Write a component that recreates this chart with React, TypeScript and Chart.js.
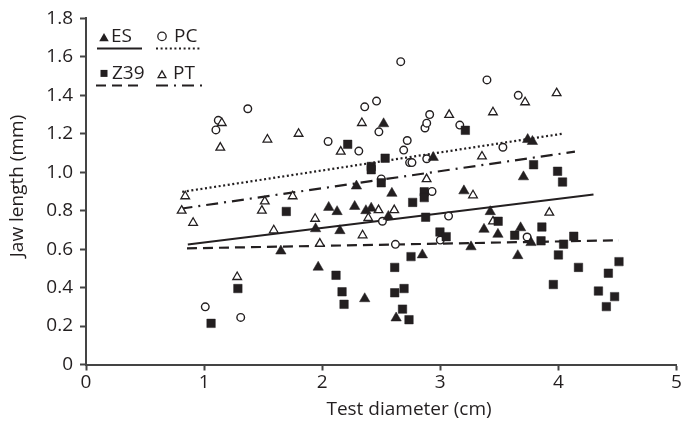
import React, { useEffect, useRef } from 'react';
import { Chart, registerables } from 'chart.js';

Chart.register(...registerables);

// ---------- data ----------
const esX = [1.65, 1.944, 1.966, 2.055, 2.126, 2.15, 2.275, 2.29, 2.36, 2.37, 2.415, 2.52, 2.56, 2.59, 2.626, 2.848, 2.94, 3.2, 3.26, 3.37, 3.423, 3.488, 3.656, 3.68, 3.704, 3.74, 3.768, 3.78];
const esY = [0.59, 0.706, 0.506, 0.817, 0.795, 0.696, 0.822, 0.928, 0.342, 0.8, 0.813, 1.252, 0.77, 0.89, 0.242, 0.57, 1.077, 0.903, 0.612, 0.703, 0.795, 0.677, 0.566, 0.711, 0.976, 1.17, 0.634, 1.16];

const z39X = [1.059, 1.286, 1.696, 2.117, 2.168, 2.185, 2.216, 2.415, 2.415, 2.5, 2.533, 2.614, 2.614, 2.68, 2.693, 2.735, 2.752, 2.766, 2.864, 2.864, 2.876, 2.997, 3.05, 3.212, 3.49, 3.63, 3.79, 3.853, 3.86, 3.957, 3.993, 4.0, 4.035, 4.044, 4.13, 4.17, 4.339, 4.406, 4.423, 4.476, 4.513];
const z39Y = [0.214, 0.395, 0.796, 0.464, 0.378, 0.313, 1.145, 1.03, 1.013, 0.945, 1.073, 0.505, 0.373, 0.288, 0.395, 0.233, 0.561, 0.843, 0.898, 0.868, 0.766, 0.689, 0.665, 1.218, 0.745, 0.672, 1.039, 0.643, 0.715, 0.416, 1.005, 0.57, 0.949, 0.626, 0.667, 0.505, 0.382, 0.301, 0.475, 0.353, 0.535];

const pcX = [1.01, 1.1, 1.12, 1.31, 1.37, 2.05, 2.31, 2.36, 2.46, 2.48, 2.5, 2.51, 2.62, 2.665, 2.69, 2.72, 2.74, 2.76, 2.87, 2.885, 2.885, 2.91, 2.93, 3.0, 3.07, 3.165, 3.395, 3.53, 3.66, 3.735];
const pcY = [0.3, 1.22, 1.27, 0.245, 1.33, 1.16, 1.11, 1.34, 1.37, 1.21, 0.965, 0.745, 0.625, 1.575, 1.115, 1.165, 1.05, 1.05, 1.23, 1.255, 1.07, 1.3, 0.9, 0.647, 0.772, 1.245, 1.48, 1.13, 1.4, 0.663];

const ptX = [0.81, 0.84, 0.907, 1.137, 1.15, 1.28, 1.489, 1.514, 1.536, 1.59, 1.75, 1.8, 1.94, 1.98, 2.157, 2.336, 2.342, 2.39, 2.477, 2.61, 2.884, 3.075, 3.277, 3.353, 3.446, 3.446, 3.718, 3.923, 3.985];
const ptY = [0.8, 0.875, 0.737, 1.128, 1.256, 0.455, 0.8, 0.848, 1.17, 0.698, 0.875, 1.2, 0.758, 0.629, 1.107, 1.256, 0.672, 0.762, 0.803, 0.803, 0.964, 1.298, 0.88, 1.082, 1.312, 0.744, 1.364, 0.79, 1.411];

// regression lines: [x0, x1], [y0, y1]
const esLineX = [0.862, 4.297];
const esLineY = [0.624, 0.884];
const pcLineX = [0.815, 4.044];
const pcLineY = [0.898, 1.201];
const ptLineX = [0.8, 4.14];
const ptLineY = [0.81, 1.107];
const z39LineX = [0.855, 4.513];
const z39LineY = [0.604, 0.646];

const seriesNames = ['ES', 'PC', 'Z39', 'PT'];
const xTickValues = [0, 1, 2, 3, 4, 5];
const yTickValues = [0, 0.2, 0.4, 0.6, 0.8, 1.0, 1.2, 1.4, 1.6, 1.8];
const yTickLabels = ['0', '0.2', '0.4', '0.6', '0.8', '1.0', '1.2', '1.4', '1.6', '1.8'];
const xTitle = 'Test diameter (cm)';
const yTitle = 'Jaw length (mm)';

// ---------- styles ----------
const INK = '#231f20';
const AXIS = '#444444';
const FONT = '"Open Sans", "Noto Sans", sans-serif';
const FS = 19;
const W = 683;
const H = 429;

const pts = (xs: number[], ys: number[]) => xs.map((x, i) => ({ x, y: ys[i] }));

const DASH_PC = [2, 2.6];
const DASH_PT = [12, 6, 2, 6];
const DASH_Z39 = [10, 6];

function drawSymbol(ctx: CanvasRenderingContext2D, kind: string, x: number, y: number, r: number, filled: boolean) {
  ctx.save();
  ctx.beginPath();
  if (kind === 'triangle') {
    for (let k = 0; k < 3; k++) {
      const a = (k * 2 * Math.PI) / 3;
      const px = x + Math.sin(a) * r;
      const py = y - Math.cos(a) * r;
      if (k === 0) ctx.moveTo(px, py);
      else ctx.lineTo(px, py);
    }
    ctx.closePath();
  } else if (kind === 'rect') {
    ctx.rect(x - r, y - r, 2 * r, 2 * r);
  } else {
    ctx.arc(x, y, r, 0, Math.PI * 2);
  }
  if (filled) {
    ctx.fillStyle = INK;
    ctx.fill();
  } else {
    ctx.fillStyle = '#ffffff';
    ctx.fill();
    ctx.lineWidth = 1.3;
    ctx.strokeStyle = INK;
    ctx.stroke();
  }
  ctx.restore();
}

function drawSample(ctx: CanvasRenderingContext2D, x0: number, x1: number, y: number, dash: number[]) {
  ctx.save();
  ctx.strokeStyle = INK;
  ctx.lineWidth = 2;
  ctx.setLineDash(dash);
  ctx.beginPath();
  ctx.moveTo(x0, y);
  ctx.lineTo(x1, y);
  ctx.stroke();
  ctx.restore();
}

const overlayPlugin = {
  id: 'overlay',
  afterDraw(chart: any) {
    const ctx: CanvasRenderingContext2D = chart.ctx;
    const area = chart.chartArea;
    ctx.save();
    ctx.fillStyle = INK;
    ctx.font = `${FS}px ${FONT}`;
    ctx.textBaseline = 'middle';
    ctx.textAlign = 'center';
    // axis titles
    ctx.save();
    ctx.translate(18, 186);
    ctx.rotate(-Math.PI / 2);
    ctx.fillText(yTitle, 0, 0);
    ctx.restore();
    ctx.fillText(xTitle, 409, 410);

    // legend
    const lx = area.left;
    const ty = area.top;
    ctx.textAlign = 'left';
    // row 1
    drawSymbol(ctx, 'triangle', lx + 18, ty + 20, 5.5, true);
    ctx.fillText(seriesNames[0], lx + 25, ty + 18);
    drawSample(ctx, lx + 11, lx + 56, ty + 30, []);
    drawSymbol(ctx, 'circle', lx + 76, ty + 18, 4.2, false);
    ctx.fillText(seriesNames[1], lx + 88, ty + 18);
    drawSample(ctx, lx + 70, lx + 115, ty + 30, DASH_PC);
    // row 2
    drawSymbol(ctx, 'rect', lx + 18, ty + 55, 3.5, true);
    ctx.fillText(seriesNames[2], lx + 26, ty + 55);
    drawSample(ctx, lx + 10, lx + 54, ty + 67, DASH_Z39);
    drawSymbol(ctx, 'triangle', lx + 76, ty + 57, 4.5, false);
    ctx.fillText(seriesNames[3], lx + 87, ty + 55);
    drawSample(ctx, lx + 70, lx + 116, ty + 67, DASH_PT);
    ctx.restore();
  },
};

export default function App() {
  const ref = useRef<HTMLCanvasElement | null>(null);

  useEffect(() => {
    document.body.style.margin = '0';
    const canvas = ref.current;
    if (!canvas) return;

    const lineDs = (label: string, xs: number[], ys: number[], dash: number[]) => ({
      type: 'line' as const,
      label,
      data: pts(xs, ys),
      showLine: true,
      borderColor: INK,
      borderWidth: 2.2,
      borderDash: dash,
      pointRadius: 0,
      pointHoverRadius: 0,
      fill: false,
      order: 10,
    });

    const chart = new Chart(canvas, {
      type: 'scatter',
      data: {
        datasets: [
          lineDs('ES fit', esLineX, esLineY, []),
          lineDs('PC fit', pcLineX, pcLineY, DASH_PC),
          lineDs('PT fit', ptLineX, ptLineY, DASH_PT),
          lineDs('Z39 fit', z39LineX, z39LineY, DASH_Z39),
          {
            label: seriesNames[1],
            data: pts(pcX, pcY),
            pointStyle: 'circle',
            pointRadius: 3.8,
            backgroundColor: '#ffffff',
            borderColor: INK,
            borderWidth: 1.4,
            order: 3,
          },
          {
            label: seriesNames[3],
            data: pts(ptX, ptY),
            pointStyle: 'triangle',
            pointRadius: 5,
            backgroundColor: '#ffffff',
            borderColor: INK,
            borderWidth: 1.3,
            order: 2,
          },
          {
            label: seriesNames[2],
            data: pts(z39X, z39Y),
            pointStyle: 'rect',
            pointRadius: 6,
            backgroundColor: INK,
            borderColor: INK,
            borderWidth: 0.5,
            order: 1,
          },
          {
            label: seriesNames[0],
            data: pts(esX, esY),
            pointStyle: 'triangle',
            pointRadius: 6,
            backgroundColor: INK,
            borderColor: INK,
            borderWidth: 0.5,
            order: 0,
          },
        ] as any,
      },
      options: {
        responsive: false,
        animation: false,
        devicePixelRatio: 1,
        layout: { padding: { top: 13, right: 4, left: 0, bottom: 0 } },
        plugins: {
          legend: { display: false },
          tooltip: { enabled: false },
          title: { display: false },
        },
        scales: {
          x: {
            type: 'linear',
            min: 0,
            max: 5,
            afterFit: (s: any) => {
              s.height = 64.5;
            },
            afterBuildTicks: (s: any) => {
              s.ticks = xTickValues.map((v) => ({ value: v }));
            },
            ticks: {
              color: INK,
              font: { family: FONT, size: FS },
              padding: 1,
              maxRotation: 0,
              callback: (v: any) => String(v),
            },
            grid: {
              display: true,
              drawOnChartArea: false,
              drawTicks: true,
              tickLength: 6,
              tickColor: AXIS,
              tickWidth: 2,
            },
            border: { display: true, color: AXIS, width: 2 },
            title: { display: false },
          },
          y: {
            type: 'linear',
            min: 0,
            max: 1.8,
            afterFit: (s: any) => {
              s.width = 86;
            },
            afterBuildTicks: (s: any) => {
              s.ticks = yTickValues.map((v) => ({ value: v }));
            },
            ticks: {
              color: INK,
              font: { family: FONT, size: FS },
              padding: 7,
              callback: (v: any) => {
                const i = yTickValues.findIndex((t) => Math.abs(t - v) < 1e-6);
                return i >= 0 ? yTickLabels[i] : '';
              },
            },
            grid: {
              display: true,
              drawOnChartArea: false,
              drawTicks: true,
              tickLength: 6,
              tickColor: AXIS,
              tickWidth: 2,
            },
            border: { display: true, color: AXIS, width: 2 },
            title: { display: false },
          },
        },
      } as any,
      plugins: [overlayPlugin],
    });

    return () => {
      chart.destroy();
    };
  }, []);

  return (
    <div style={{ width: W, height: H, background: '#ffffff' }}>
      <canvas ref={ref} width={W} height={H} style={{ width: W, height: H, display: 'block' }} />
    </div>
  );
}
